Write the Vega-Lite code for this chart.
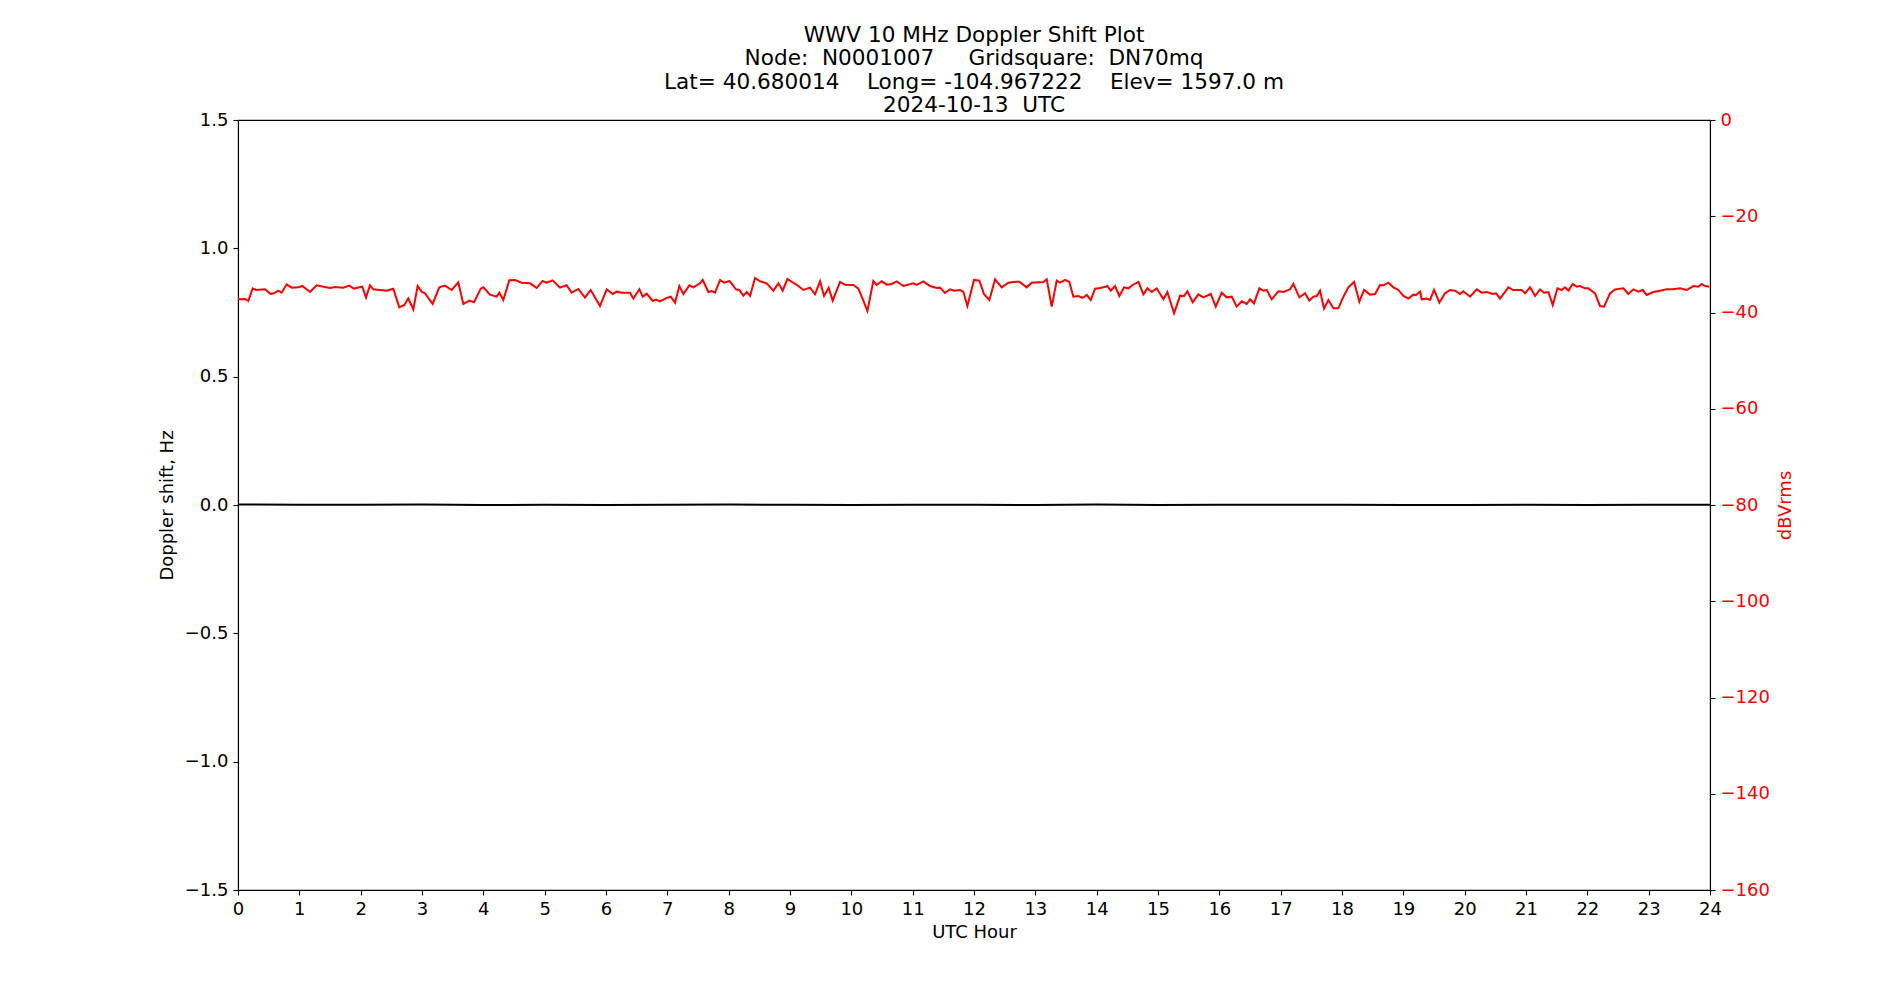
{
  "$schema": "https://vega.github.io/schema/vega-lite/v6.json",
  "description": "WWV 10 MHz Doppler shift and received power over one UTC day.",
  "autosize": "none",
  "width": 1472,
  "height": 770,
  "padding": {"left": 238, "top": 120, "right": 190, "bottom": 110},
  "title": {
    "text": ["WWV 10 MHz Doppler Shift Plot", "Node: \u00a0N0001007 \u00a0\u00a0\u00a0\u00a0Gridsquare: \u00a0DN70mq", "Lat= 40.680014 \u00a0\u00a0\u00a0Long= -104.967222 \u00a0\u00a0\u00a0Elev= 1597.0 m", "2024-10-13 \u00a0UTC"],
    "fontSize": 21.6,
    "lineHeight": 23.3,
    "font": "DejaVu Sans",
    "fontWeight": "normal",
    "color": "#000000",
    "anchor": "middle",
    "offset": -5.5
  },
  "datasets": {
    "doppler": [
      {"hour": 0, "shift": 0.002}, {"hour": 1, "shift": 0.001}, {"hour": 2, "shift": 0.001},
      {"hour": 3, "shift": 0.002}, {"hour": 4, "shift": 0.0}, {"hour": 5, "shift": 0.001},
      {"hour": 6, "shift": 0.0}, {"hour": 7, "shift": 0.001}, {"hour": 8, "shift": 0.002},
      {"hour": 9, "shift": 0.001}, {"hour": 10, "shift": 0.0}, {"hour": 11, "shift": 0.001},
      {"hour": 12, "shift": 0.001}, {"hour": 13, "shift": 0.0}, {"hour": 14, "shift": 0.002},
      {"hour": 15, "shift": 0.0}, {"hour": 16, "shift": 0.001}, {"hour": 17, "shift": 0.001},
      {"hour": 18, "shift": 0.001}, {"hour": 19, "shift": 0.0}, {"hour": 20, "shift": 0.0},
      {"hour": 21, "shift": 0.001}, {"hour": 22, "shift": 0.0}, {"hour": 23, "shift": 0.001},
      {"hour": 24, "shift": 0.001}
    ],
    "power": [
      {"hour": 0.0, "db": -37.26}, {"hour": 0.114, "db": -37.19}, {"hour": 0.168, "db": -37.61},
      {"hour": 0.239, "db": -34.98}, {"hour": 0.293, "db": -35.32}, {"hour": 0.44, "db": -35.18},
      {"hour": 0.532, "db": -36.15}, {"hour": 0.587, "db": -36.01}, {"hour": 0.657, "db": -35.46},
      {"hour": 0.712, "db": -35.88}, {"hour": 0.793, "db": -34.14}, {"hour": 0.875, "db": -34.84},
      {"hour": 0.984, "db": -34.77}, {"hour": 1.049, "db": -34.49}, {"hour": 1.174, "db": -35.74},
      {"hour": 1.282, "db": -34.35}, {"hour": 1.391, "db": -34.63}, {"hour": 1.5, "db": -34.91},
      {"hour": 1.581, "db": -34.7}, {"hour": 1.717, "db": -34.84}, {"hour": 1.815, "db": -34.42},
      {"hour": 1.891, "db": -35.05}, {"hour": 1.978, "db": -34.77}, {"hour": 2.027, "db": -34.63},
      {"hour": 2.087, "db": -36.91}, {"hour": 2.152, "db": -34.35}, {"hour": 2.206, "db": -35.18},
      {"hour": 2.315, "db": -35.32}, {"hour": 2.424, "db": -35.46}, {"hour": 2.532, "db": -35.05},
      {"hour": 2.63, "db": -38.92}, {"hour": 2.712, "db": -38.44}, {"hour": 2.777, "db": -37.05},
      {"hour": 2.858, "db": -39.34}, {"hour": 2.929, "db": -34.49}, {"hour": 2.994, "db": -35.67},
      {"hour": 3.049, "db": -36.01}, {"hour": 3.174, "db": -38.23}, {"hour": 3.282, "db": -34.77},
      {"hour": 3.375, "db": -34.42}, {"hour": 3.484, "db": -35.32}, {"hour": 3.592, "db": -33.73},
      {"hour": 3.674, "db": -38.23}, {"hour": 3.772, "db": -37.54}, {"hour": 3.848, "db": -37.88},
      {"hour": 3.957, "db": -35.05}, {"hour": 4.0, "db": -34.77}, {"hour": 4.109, "db": -36.29},
      {"hour": 4.217, "db": -36.71}, {"hour": 4.261, "db": -35.88}, {"hour": 4.326, "db": -37.4},
      {"hour": 4.424, "db": -33.31}, {"hour": 4.516, "db": -33.24}, {"hour": 4.625, "db": -33.8},
      {"hour": 4.761, "db": -33.94}, {"hour": 4.87, "db": -34.91}, {"hour": 4.967, "db": -33.45},
      {"hour": 5.032, "db": -33.8}, {"hour": 5.13, "db": -33.31}, {"hour": 5.25, "db": -34.84},
      {"hour": 5.358, "db": -34.35}, {"hour": 5.44, "db": -35.88}, {"hour": 5.549, "db": -35.11},
      {"hour": 5.658, "db": -36.91}, {"hour": 5.75, "db": -35.32}, {"hour": 5.902, "db": -38.65},
      {"hour": 6.012, "db": -35.18}, {"hour": 6.11, "db": -36.15}, {"hour": 6.175, "db": -35.67},
      {"hour": 6.256, "db": -35.88}, {"hour": 6.392, "db": -35.88}, {"hour": 6.446, "db": -37.12},
      {"hour": 6.544, "db": -35.18}, {"hour": 6.599, "db": -36.71}, {"hour": 6.664, "db": -36.08},
      {"hour": 6.762, "db": -37.61}, {"hour": 6.816, "db": -37.33}, {"hour": 6.881, "db": -37.68},
      {"hour": 6.99, "db": -36.98}, {"hour": 7.055, "db": -36.71}, {"hour": 7.126, "db": -37.95},
      {"hour": 7.196, "db": -34.49}, {"hour": 7.262, "db": -36.15}, {"hour": 7.36, "db": -34.35},
      {"hour": 7.425, "db": -34.77}, {"hour": 7.533, "db": -33.94}, {"hour": 7.577, "db": -33.24},
      {"hour": 7.669, "db": -35.74}, {"hour": 7.724, "db": -35.53}, {"hour": 7.778, "db": -35.88},
      {"hour": 7.86, "db": -33.24}, {"hour": 7.925, "db": -33.8}, {"hour": 8.012, "db": -33.45},
      {"hour": 8.12, "db": -35.18}, {"hour": 8.175, "db": -35.32}, {"hour": 8.24, "db": -36.5},
      {"hour": 8.294, "db": -35.74}, {"hour": 8.349, "db": -36.57}, {"hour": 8.43, "db": -32.83},
      {"hour": 8.512, "db": -33.52}, {"hour": 8.62, "db": -33.94}, {"hour": 8.729, "db": -35.46},
      {"hour": 8.811, "db": -33.94}, {"hour": 8.881, "db": -35.46}, {"hour": 8.957, "db": -33.04},
      {"hour": 9.044, "db": -33.73}, {"hour": 9.137, "db": -34.49}, {"hour": 9.218, "db": -35.32},
      {"hour": 9.327, "db": -34.84}, {"hour": 9.408, "db": -36.22}, {"hour": 9.49, "db": -33.52},
      {"hour": 9.555, "db": -36.57}, {"hour": 9.631, "db": -34.84}, {"hour": 9.696, "db": -37.54},
      {"hour": 9.816, "db": -33.66}, {"hour": 9.897, "db": -34.21}, {"hour": 10.033, "db": -34.28},
      {"hour": 10.115, "db": -35.05}, {"hour": 10.196, "db": -37.54}, {"hour": 10.262, "db": -39.69},
      {"hour": 10.359, "db": -33.45}, {"hour": 10.414, "db": -34.28}, {"hour": 10.495, "db": -33.52},
      {"hour": 10.577, "db": -34.21}, {"hour": 10.658, "db": -34.07}, {"hour": 10.74, "db": -33.52},
      {"hour": 10.849, "db": -34.49}, {"hour": 11.012, "db": -33.94}, {"hour": 11.066, "db": -34.28},
      {"hour": 11.175, "db": -33.52}, {"hour": 11.283, "db": -34.49}, {"hour": 11.392, "db": -34.91},
      {"hour": 11.446, "db": -34.84}, {"hour": 11.528, "db": -35.94}, {"hour": 11.61, "db": -35.18},
      {"hour": 11.675, "db": -35.46}, {"hour": 11.773, "db": -35.32}, {"hour": 11.827, "db": -35.74},
      {"hour": 11.892, "db": -38.65}, {"hour": 12.001, "db": -33.24}, {"hour": 12.088, "db": -33.38},
      {"hour": 12.164, "db": -36.22}, {"hour": 12.251, "db": -37.4}, {"hour": 12.343, "db": -33.1},
      {"hour": 12.452, "db": -34.77}, {"hour": 12.561, "db": -33.8}, {"hour": 12.642, "db": -33.66},
      {"hour": 12.74, "db": -33.59}, {"hour": 12.86, "db": -34.77}, {"hour": 12.941, "db": -33.8},
      {"hour": 13.131, "db": -33.66}, {"hour": 13.186, "db": -33.1}, {"hour": 13.267, "db": -38.78},
      {"hour": 13.349, "db": -33.38}, {"hour": 13.403, "db": -33.8}, {"hour": 13.485, "db": -33.24},
      {"hour": 13.555, "db": -33.66}, {"hour": 13.62, "db": -36.71}, {"hour": 13.702, "db": -36.57},
      {"hour": 13.773, "db": -36.98}, {"hour": 13.838, "db": -36.36}, {"hour": 13.903, "db": -37.4},
      {"hour": 13.974, "db": -35.05}, {"hour": 14.055, "db": -34.91}, {"hour": 14.11, "db": -34.77},
      {"hour": 14.175, "db": -34.49}, {"hour": 14.229, "db": -35.46}, {"hour": 14.3, "db": -34.49},
      {"hour": 14.37, "db": -36.57}, {"hour": 14.447, "db": -34.77}, {"hour": 14.517, "db": -34.98},
      {"hour": 14.588, "db": -34.28}, {"hour": 14.68, "db": -33.66}, {"hour": 14.762, "db": -36.22},
      {"hour": 14.827, "db": -34.98}, {"hour": 14.898, "db": -35.74}, {"hour": 14.979, "db": -34.98},
      {"hour": 15.088, "db": -37.26}, {"hour": 15.153, "db": -35.74}, {"hour": 15.262, "db": -40.17},
      {"hour": 15.36, "db": -36.5}, {"hour": 15.425, "db": -36.57}, {"hour": 15.479, "db": -35.6},
      {"hour": 15.566, "db": -37.88}, {"hour": 15.658, "db": -36.22}, {"hour": 15.74, "db": -36.85},
      {"hour": 15.86, "db": -36.15}, {"hour": 15.941, "db": -38.78}, {"hour": 16.039, "db": -35.88},
      {"hour": 16.12, "db": -36.85}, {"hour": 16.202, "db": -36.71}, {"hour": 16.283, "db": -38.78},
      {"hour": 16.365, "db": -37.68}, {"hour": 16.447, "db": -38.23}, {"hour": 16.501, "db": -37.26},
      {"hour": 16.566, "db": -38.09}, {"hour": 16.653, "db": -34.98}, {"hour": 16.718, "db": -35.46},
      {"hour": 16.773, "db": -35.32}, {"hour": 16.854, "db": -37.26}, {"hour": 16.963, "db": -35.6},
      {"hour": 17.044, "db": -35.74}, {"hour": 17.153, "db": -35.18}, {"hour": 17.207, "db": -34.07},
      {"hour": 17.305, "db": -36.85}, {"hour": 17.398, "db": -36.01}, {"hour": 17.468, "db": -37.54},
      {"hour": 17.533, "db": -36.71}, {"hour": 17.588, "db": -36.57}, {"hour": 17.642, "db": -35.46},
      {"hour": 17.707, "db": -39.2}, {"hour": 17.778, "db": -37.4}, {"hour": 17.86, "db": -39.13},
      {"hour": 17.941, "db": -39.13}, {"hour": 18.023, "db": -36.71}, {"hour": 18.104, "db": -34.77},
      {"hour": 18.197, "db": -33.66}, {"hour": 18.283, "db": -37.75}, {"hour": 18.36, "db": -35.32},
      {"hour": 18.457, "db": -36.29}, {"hour": 18.539, "db": -36.15}, {"hour": 18.62, "db": -34.28},
      {"hour": 18.675, "db": -34.35}, {"hour": 18.756, "db": -33.8}, {"hour": 18.838, "db": -34.77},
      {"hour": 18.919, "db": -35.32}, {"hour": 19.001, "db": -36.57}, {"hour": 19.082, "db": -37.12},
      {"hour": 19.164, "db": -36.29}, {"hour": 19.207, "db": -36.36}, {"hour": 19.273, "db": -35.67},
      {"hour": 19.3, "db": -37.26}, {"hour": 19.381, "db": -37.12}, {"hour": 19.436, "db": -37.4},
      {"hour": 19.501, "db": -35.32}, {"hour": 19.588, "db": -37.95}, {"hour": 19.68, "db": -36.01},
      {"hour": 19.762, "db": -35.32}, {"hour": 19.843, "db": -35.46}, {"hour": 19.925, "db": -36.15},
      {"hour": 19.979, "db": -35.6}, {"hour": 20.088, "db": -36.71}, {"hour": 20.197, "db": -35.18},
      {"hour": 20.278, "db": -35.88}, {"hour": 20.36, "db": -35.74}, {"hour": 20.457, "db": -36.15},
      {"hour": 20.512, "db": -36.01}, {"hour": 20.577, "db": -37.1}, {"hour": 20.713, "db": -34.77},
      {"hour": 20.794, "db": -35.33}, {"hour": 20.93, "db": -35.33}, {"hour": 20.985, "db": -36.02},
      {"hour": 21.066, "db": -34.77}, {"hour": 21.148, "db": -36.57}, {"hour": 21.229, "db": -35.19},
      {"hour": 21.294, "db": -35.88}, {"hour": 21.365, "db": -35.74}, {"hour": 21.436, "db": -38.44},
      {"hour": 21.512, "db": -34.98}, {"hour": 21.582, "db": -35.33}, {"hour": 21.637, "db": -34.77},
      {"hour": 21.691, "db": -35.46}, {"hour": 21.762, "db": -34.08}, {"hour": 21.827, "db": -34.63},
      {"hour": 21.881, "db": -34.5}, {"hour": 21.963, "db": -34.98}, {"hour": 22.017, "db": -34.98},
      {"hour": 22.126, "db": -36.02}, {"hour": 22.207, "db": -38.65}, {"hour": 22.273, "db": -38.79},
      {"hour": 22.37, "db": -36.02}, {"hour": 22.452, "db": -35.19}, {"hour": 22.588, "db": -34.98},
      {"hour": 22.669, "db": -36.16}, {"hour": 22.751, "db": -35.19}, {"hour": 22.832, "db": -35.67},
      {"hour": 22.903, "db": -35.33}, {"hour": 22.968, "db": -36.36}, {"hour": 23.077, "db": -35.74},
      {"hour": 23.186, "db": -35.46}, {"hour": 23.294, "db": -35.19}, {"hour": 23.403, "db": -35.19},
      {"hour": 23.512, "db": -34.98}, {"hour": 23.62, "db": -35.33}, {"hour": 23.729, "db": -34.5},
      {"hour": 23.811, "db": -34.63}, {"hour": 23.865, "db": -34.08}, {"hour": 23.92, "db": -34.5},
      {"hour": 23.99, "db": -34.63}
    ]
  },
  "encoding": {
    "x": {
      "field": "hour",
      "type": "quantitative",
      "scale": {"domain": [0, 24], "nice": false, "zero": false},
      "axis": {
        "title": "UTC Hour",
        "values": [0, 1, 2, 3, 4, 5, 6, 7, 8, 9, 10, 11, 12, 13, 14, 15, 16, 17, 18, 19, 20, 21, 22, 23, 24],
        "format": "d",
        "titlePadding": 5
      }
    }
  },
  "layer": [
    {
      "data": {"name": "doppler"},
      "mark": {"type": "line", "color": "#000000", "strokeWidth": 2, "clip": true},
      "encoding": {
        "y": {
          "field": "shift",
          "type": "quantitative",
          "scale": {"domain": [-1.5, 1.5], "nice": false, "zero": false},
          "axis": {
            "title": "Doppler shift, Hz",
            "orient": "left",
            "values": [-1.5, -1, -0.5, 0, 0.5, 1, 1.5],
            "labelExpr": "replace(format(datum.value, '.1f'), '-', '\u2212')",
            "titlePadding": 8
          }
        }
      }
    },
    {
      "data": {"name": "power"},
      "mark": {"type": "line", "color": "#ff0000", "strokeWidth": 2, "clip": true},
      "encoding": {
        "y": {
          "field": "db",
          "type": "quantitative",
          "scale": {"domain": [-160, 0], "nice": false, "zero": false},
          "axis": {
            "title": "dBVrms",
            "orient": "right",
            "values": [-160, -140, -120, -100, -80, -60, -40, -20, 0],
            "labelExpr": "replace(format(datum.value, 'd'), '-', '\u2212')",
            "labelColor": "#ff0000",
            "titleColor": "#ff0000",
            "titleAngle": 270,
            "titleBaseline": "top",
            "titlePadding": 7
          }
        }
      }
    }
  ],
  "resolve": {"scale": {"y": "independent"}},
  "config": {
    "font": "DejaVu Sans",
    "view": {"stroke": "#000000", "strokeWidth": 1.1},
    "axis": {
      "grid": false,
      "domainColor": "#000000",
      "domainWidth": 1.1,
      "tickColor": "#000000",
      "tickWidth": 1.1,
      "tickSize": 5,
      "labelPadding": 5,
      "labelFont": "DejaVu Sans",
      "labelFontSize": 18,
      "labelColor": "#000000",
      "titleFont": "DejaVu Sans",
      "titleFontSize": 18,
      "titleFontWeight": "normal",
      "titleColor": "#000000",
      "labelFlush": false,
      "labelOverlap": false
    }
  }
}
